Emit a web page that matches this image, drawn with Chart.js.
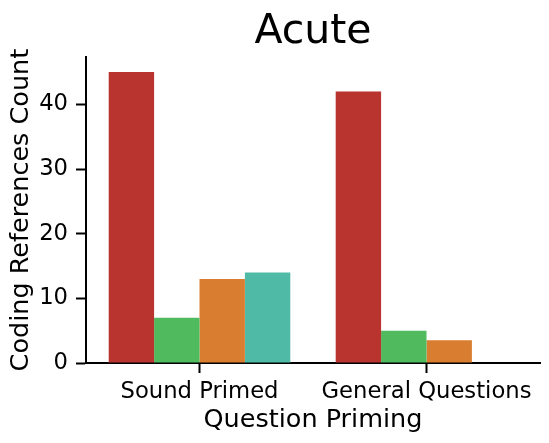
<!DOCTYPE html>
<html>
<head>
<meta charset="utf-8">
<script src="https://cdn.jsdelivr.net/npm/chart.js@4/dist/chart.umd.min.js"></script>
<style>
  html, body { margin: 0; padding: 0; background: #fff; }
  #wrap { width: 549px; height: 443px; }
</style>
</head>
<body>
<div id="wrap"><canvas id="grafico" width="549" height="443"></canvas></div>
<script>
// valores
const categorias = ['Sound Primed', 'General Questions'];
const serieVermelha = [45, 42];
const serieVerde = [7, 5];
const serieLaranja = [13, 3.5];
const serieTurquesa = [14, null];
const ticksY = [0, 10, 20, 30, 40];

const fonte = 'DejaVu Sans';

const ctx = document.getElementById('grafico').getContext('2d');

new Chart(ctx, {
    type: 'bar',
    data: {
        labels: categorias,
        datasets: [
            { label: 'A', data: serieVermelha, backgroundColor: '#b9332f' },
            { label: 'B', data: serieVerde, backgroundColor: '#4fbb5e' },
            { label: 'C', data: serieLaranja, backgroundColor: '#d97e30' },
            { label: 'D', data: serieTurquesa, backgroundColor: '#4fbba6' }
        ]
    },
    options: {
        responsive: false,
        animation: false,
        layout: { padding: { left: 0, right: 9, top: 0, bottom: 0 } },
        datasets: {
            bar: { categoryPercentage: 0.8, barPercentage: 1.0, borderWidth: 0 }
        },
        plugins: {
            legend: { display: false },
            tooltip: { enabled: false },
            title: {
                display: true,
                text: 'Acute',
                color: '#000',
                fullSize: false,
                font: { family: fonte, size: 41, weight: 'normal' },
                padding: { top: 8, bottom: 0 }
            }
        },
        scales: {
            x: {
                grid: {
                    display: true,
                    offset: false,
                    drawOnChartArea: false,
                    drawTicks: true,
                    tickLength: 10,
                    tickWidth: 2,
                    tickColor: '#000'
                },
                border: { display: true, color: '#000', width: 2 },
                ticks: {
                    color: '#000',
                    padding: 5,
                    font: { family: fonte, size: 22.7 }
                },
                title: {
                    display: true,
                    text: 'Question Priming',
                    color: '#000',
                    font: { family: fonte, size: 25.5 },
                    padding: { top: 0, bottom: 7 }
                },
                afterFit: (scale) => { scale.height = 80; }
            },
            y: {
                min: 0,
                max: 47.3,
                grid: {
                    display: true,
                    drawOnChartArea: false,
                    drawTicks: true,
                    tickLength: 10,
                    tickWidth: 2,
                    tickColor: '#000'
                },
                border: { display: true, color: '#000', width: 2 },
                ticks: {
                    color: '#000',
                    padding: 8,
                    stepSize: 10,
                    font: { family: fonte, size: 22.7 }
                },
                afterBuildTicks: (scale) => {
                    scale.ticks = ticksY.map(v => ({ value: v }));
                },
                title: {
                    display: true,
                    text: 'Coding References Count',
                    color: '#000',
                    font: { family: fonte, size: 25.5 },
                    padding: { top: 6, bottom: 0 }
                },
                afterFit: (scale) => { scale.width = 86; }
            }
        }
    }
});
</script>
</body>
</html>
